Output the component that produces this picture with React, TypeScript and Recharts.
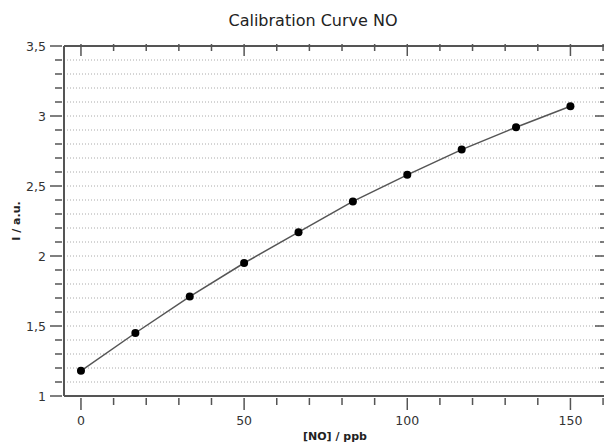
import { LineChart, Line, XAxis, YAxis, CartesianGrid, Label } from "recharts";

// NO concentration (ppb) vs. intensity (a.u.)
const concentrations = [0, 16.67, 33.33, 50, 66.67, 83.33, 100, 116.67, 133.33, 150];
const intensities = [1.18, 1.45, 1.71, 1.95, 2.17, 2.39, 2.58, 2.76, 2.92, 3.07];

const xTicks = [0, 10, 20, 30, 40, 50, 60, 70, 80, 90, 100, 110, 120, 130, 140, 150, 160];
const yTicks = [
  1, 1.1, 1.2, 1.3, 1.4, 1.5, 1.6, 1.7, 1.8, 1.9, 2, 2.1, 2.2, 2.3, 2.4, 2.5, 2.6, 2.7,
  2.8, 2.9, 3, 3.1, 3.2, 3.3, 3.4, 3.5,
];

const data = concentrations.map((c, i) => ({ x: c, y: intensities[i] }));

const AXIS = "#555555";
const FONT = "'DejaVu Sans', Verdana, sans-serif";
const X_DOMAIN: [number, number] = [-5.2, 160.9];
const Y_DOMAIN: [number, number] = [1, 3.5];

const isMajorX = (v: number) => v % 50 === 0;
const isMajorY = (v: number) => Math.abs(v * 2 - Math.round(v * 2)) < 1e-6;
const fmt = (v: number) => String(v).replace(".", ",");

// ticks point outward on bottom/left, inward on top/right
const BottomTick = ({ x, y, payload }: any) => {
  const major = isMajorX(payload.value);
  return (
    <g>
      <line x1={x} x2={x} y1={y} y2={y + (major ? 12 : 7)} stroke={AXIS} strokeWidth={1.5} />
      {major && (
        <text x={x} y={y + 27} textAnchor="middle" fontSize={12.5} fontFamily={FONT} fill="#333">
          {payload.value}
        </text>
      )}
    </g>
  );
};

const TopTick = ({ x, y, payload }: any) => {
  const major = isMajorX(payload.value);
  return <line x1={x} x2={x} y1={y} y2={y + (major ? 12 : 7)} stroke={AXIS} strokeWidth={1.5} />;
};

const LeftTick = ({ x, y, payload }: any) => {
  const major = isMajorY(payload.value);
  return (
    <g>
      <line x1={x - (major ? 12 : 7)} x2={x} y1={y} y2={y} stroke={AXIS} strokeWidth={1.5} />
      {major && (
        <text x={x - 16} y={y + 4.5} textAnchor="end" fontSize={12.5} fontFamily={FONT} fill="#333">
          {fmt(payload.value)}
        </text>
      )}
    </g>
  );
};

const RightTick = ({ x, y, payload }: any) => {
  const major = isMajorY(payload.value);
  return <line x1={x - (major ? 13 : 8)} x2={x} y1={y} y2={y} stroke={AXIS} strokeWidth={1.5} />;
};

export default function App() {
  return (
    <div
      style={{
        position: "absolute",
        left: 0,
        top: 0,
        width: 604,
        height: 444,
        overflow: "hidden",
        background: "#fff",
      }}
    >
      <div
        style={{
          position: "absolute",
          left: 0,
          top: 11,
          width: 626,
          textAlign: "center",
          fontFamily: FONT,
          fontSize: 16,
          color: "#222",
        }}
      >
        Calibration Curve NO
      </div>
      <LineChart width={608} height={444} data={data} margin={{ top: 45, right: 1, bottom: 0, left: 0 }}>
        <CartesianGrid vertical={false} stroke="#aaaaaa" strokeDasharray="1 2" />
        <XAxis
          dataKey="x"
          type="number"
          domain={X_DOMAIN}
          ticks={xTicks}
          allowDataOverflow
          height={48}
          tickSize={0}
          tickLine={false}
          tick={<BottomTick />}
          interval={0}
          axisLine={{ stroke: AXIS, strokeWidth: 2 }}
        >
          <Label
            value="[NO] / ppb"
            position="insideBottom"
            offset={4}
            style={{ fontFamily: FONT, fontSize: 11, fontWeight: "bold", fill: "#222" }}
          />
        </XAxis>
        <XAxis
          xAxisId="top"
          orientation="top"
          dataKey="x"
          type="number"
          domain={X_DOMAIN}
          ticks={xTicks}
          allowDataOverflow
          height={1}
          tickSize={0}
          tickLine={false}
          tick={<TopTick />}
          interval={0}
          axisLine={{ stroke: AXIS, strokeWidth: 2 }}
        />
        <YAxis
          type="number"
          domain={Y_DOMAIN}
          ticks={yTicks}
          allowDataOverflow
          width={64}
          tickSize={0}
          tickLine={false}
          tick={<LeftTick />}
          interval={0}
          axisLine={{ stroke: AXIS, strokeWidth: 2 }}
        >
          <Label
            value="I / a.u."
            angle={-90}
            position="insideLeft"
            offset={16}
            style={{ fontFamily: FONT, fontSize: 11, fontWeight: "bold", fill: "#222", textAnchor: "middle" }}
          />
        </YAxis>
        <YAxis
          yAxisId="right"
          orientation="right"
          type="number"
          domain={Y_DOMAIN}
          ticks={yTicks}
          allowDataOverflow
          width={1}
          tickSize={0}
          tickLine={false}
          tick={<RightTick />}
          interval={0}
          axisLine={{ stroke: AXIS, strokeWidth: 2 }}
        />
        <Line
          dataKey="y"
          type="linear"
          stroke="#555555"
          strokeWidth={1.5}
          dot={{ r: 4, fill: "#000", stroke: "none" }}
          activeDot={false}
          isAnimationActive={false}
        />
      </LineChart>
    </div>
  );
}
